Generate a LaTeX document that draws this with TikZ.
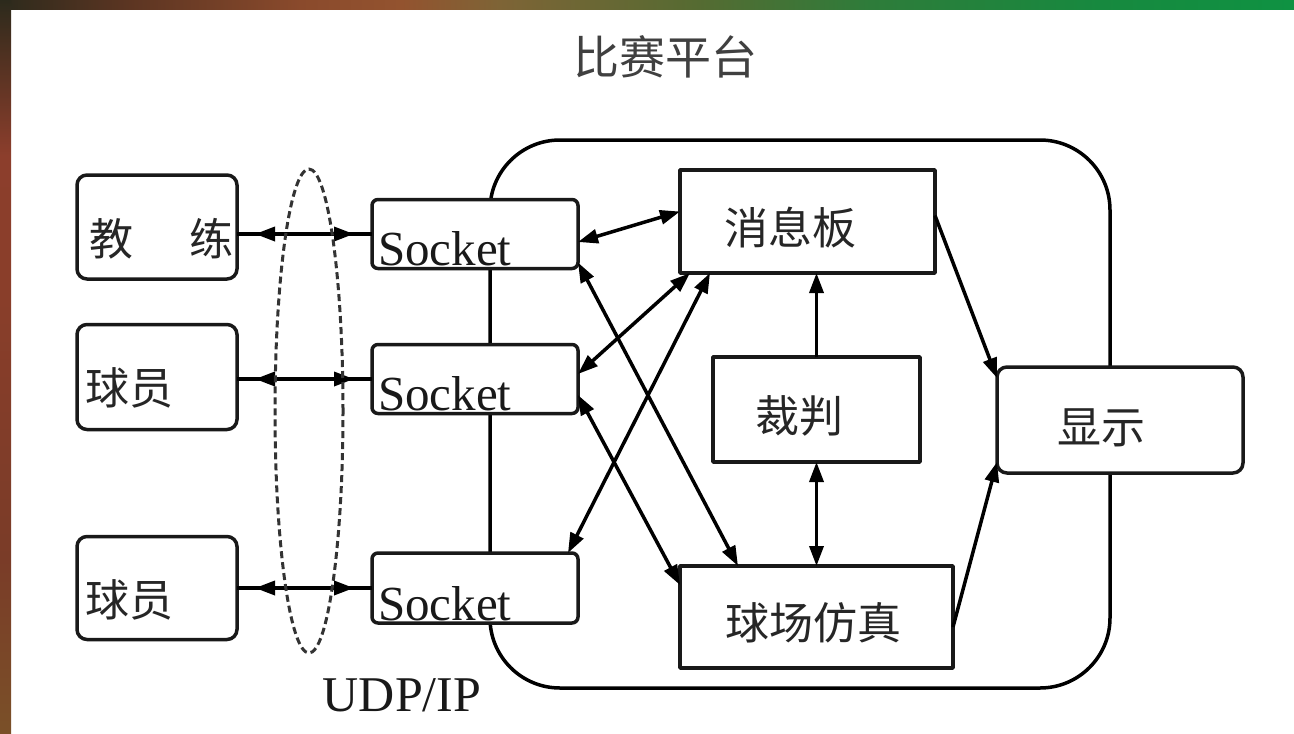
\documentclass[tikz,border=0pt]{standalone}
\usepackage{fontspec}
\setmainfont{Liberation Serif}
\newfontfamily\cjk{Noto Sans CJK SC}
\usetikzlibrary{shapes.geometric,arrows.meta,calc}
\definecolor{tbA}{HTML}{2C2A1C}
\definecolor{tbB}{HTML}{5C3522}
\definecolor{tbC}{HTML}{8A4A2C}
\definecolor{tbD}{HTML}{93532F}
\definecolor{tbE}{HTML}{7E6436}
\definecolor{tbF}{HTML}{556B32}
\definecolor{tbG}{HTML}{2E7C3A}
\definecolor{tbH}{HTML}{17893F}
\definecolor{tbI}{HTML}{0F9242}
\definecolor{lbA}{HTML}{7A5028}
\definecolor{lbB}{HTML}{7A3C28}
\definecolor{lbC}{HTML}{8A3E2A}
\definecolor{lbD}{HTML}{8C3E2C}
\definecolor{lbE}{HTML}{4A3020}
\pgfdeclarehorizontalshading{topband}{100bp}{color(0bp)=(tbA); color(25bp)=(tbA); color(30bp)=(tbB); color(36.6bp)=(tbC); color(40.5bp)=(tbD); color(44.3bp)=(tbE); color(52bp)=(tbF); color(58.6bp)=(tbG); color(67.5bp)=(tbH); color(75bp)=(tbI); color(100bp)=(tbI)}
\pgfdeclareverticalshading{leftband}{100bp}{color(0bp)=(lbA); color(25bp)=(lbA); color(36.9bp)=(lbB); color(55.9bp)=(lbC); color(64.4bp)=(lbD); color(71.8bp)=(lbE); color(75bp)=(tbA); color(100bp)=(tbA)}
\tikzset{
  box/.style={draw=black!90, line width=3.5pt, fill=white, inner sep=0pt, outer sep=0pt},
  lbox/.style={box, rounded corners=10pt, minimum width=160pt, minimum height=104pt},
  sbox/.style={box, rounded corners=6pt, minimum width=206pt, minimum height=69pt},
  conn/.style={line width=3.5pt, draw=black},
  dbl/.style={conn, {Triangle[length=20pt,width=14pt]}-{Triangle[length=20pt,width=14pt]}},
  sgl/.style={conn, -{Triangle[length=20pt,width=14pt]}},
  cjktxt/.style={font=\cjk\fontsize{44pt}{48pt}\selectfont, text=black!85, inner sep=0pt},
  socktxt/.style={font=\fontsize{49pt}{52pt}\selectfont, text=black!90, anchor=base west, inner sep=0pt}
}
\begin{document}
\begin{tikzpicture}[x=1pt,y=-1pt,line join=round]
\useasboundingbox (0,0) rectangle (1294,734);
\fill[white] (0,0) rectangle (1294,734);
\shade[shading=topband] (0,0) rectangle (1294,9);
\shade[shading=leftband] (0,0) rectangle (11,734);

% platform
\node[draw=black, line width=3.5pt, rounded corners=70pt, minimum width=620pt, minimum height=548pt, inner sep=0pt, outer sep=0pt] (platform) at (800,414) {};

% left boxes
\node[lbox] (coach) at (157,227) {};
\node[lbox, minimum height=105pt] (p1) at (157,377) {};
\node[lbox, minimum height=103pt] (p2) at (157,588) {};

% sockets
\node[sbox] (s1) at (475,234) {};
\node[sbox] (s2) at (475,379) {};
\node[sbox, minimum height=70pt] (s3) at (475,588) {};

% right boxes
\node[box, minimum width=255pt, minimum height=103pt] (msg) at (807.5,221.5) {};
\node[box, minimum width=207pt, minimum height=105pt] (ref) at (816.5,409.5) {};
\node[box, minimum width=273pt, minimum height=102pt] (sim) at (816.5,617) {};
\node[box, rounded corners=10pt, minimum width=246pt, minimum height=106pt] (disp) at (1120,420) {};

% left connectors
\draw[conn] (s1.west -| coach.east) -- (s1.west);
\draw[dbl, shorten <=18pt, shorten >=18pt] (s1.west -| coach.east) -- (s1.west);
\draw[conn] (s2.west -| p1.east) -- (s2.west);
\draw[dbl, shorten <=18pt, shorten >=18pt] (s2.west -| p1.east) -- (s2.west);
\draw[conn] (s3.west -| p2.east) -- (s3.west);
\draw[dbl, shorten <=18pt, shorten >=18pt] (s3.west -| p2.east) -- (s3.west);

% socket -- platform modules
\draw[dbl] ($(s1.east)+(0,8)$) -- ($(msg.west)+(0,-10)$);
\draw[dbl] ($(s1.south east)+(0,-6)$) -- ($(sim.north west)+(58,0)$);
\draw[dbl] ($(s2.east)+(0,-5)$) -- ($(msg.south west)+(10,0)$);
\draw[dbl] ($(s2.east)+(0,16)$) -- ($(sim.west)+(0,-32)$);
\draw[dbl] ($(s3.north east)+(-10,0)$) -- ($(msg.south west)+(30,0)$);

% referee
\draw[sgl] (ref.north) -- (ref.north |- msg.south);
\draw[dbl] (ref.south) -- (ref.south |- sim.north);

% display
\draw[sgl] ($(msg.east)+(0,-6)$) -- ($(disp.west)+(0,-42)$);
\draw[sgl] ($(sim.east)+(0,10)$) -- ($(disp.west)+(0,42)$);

% UDP ellipse
\node[draw=black!80, ellipse, dash pattern=on 7pt off 4pt, line width=3pt, minimum width=68pt, minimum height=484pt, inner sep=0pt] (udp) at (309,411) {};

% texts
\node[font=\cjk\fontsize{46pt}{50pt}\selectfont, text=black!75] (title) at (665,57) {比赛平台};
\node[font=\fontsize{50pt}{54pt}\selectfont, text=black!90] (udplabel) at (402,695) {UDP/IP};
\node[cjktxt] (tcoach) at (161.5,239) {教\hspace{56pt}练};
\node[cjktxt] (tp1) at (129,388) {球员};
\node[cjktxt] (tp2) at (129,600) {球员};
\node[socktxt] (ts1) at (378,265) {Socket};
\node[socktxt] (ts2) at (378,410) {Socket};
\node[socktxt] (ts3) at (378,620) {Socket};
\node[cjktxt] (tmsg) at (790,228) {消息板};
\node[cjktxt] (tref) at (799,416) {裁判};
\node[cjktxt] (tsim) at (813,623) {球场仿真};
\node[cjktxt] (tdisp) at (1101,428) {显示};
\end{tikzpicture}
\end{document}
